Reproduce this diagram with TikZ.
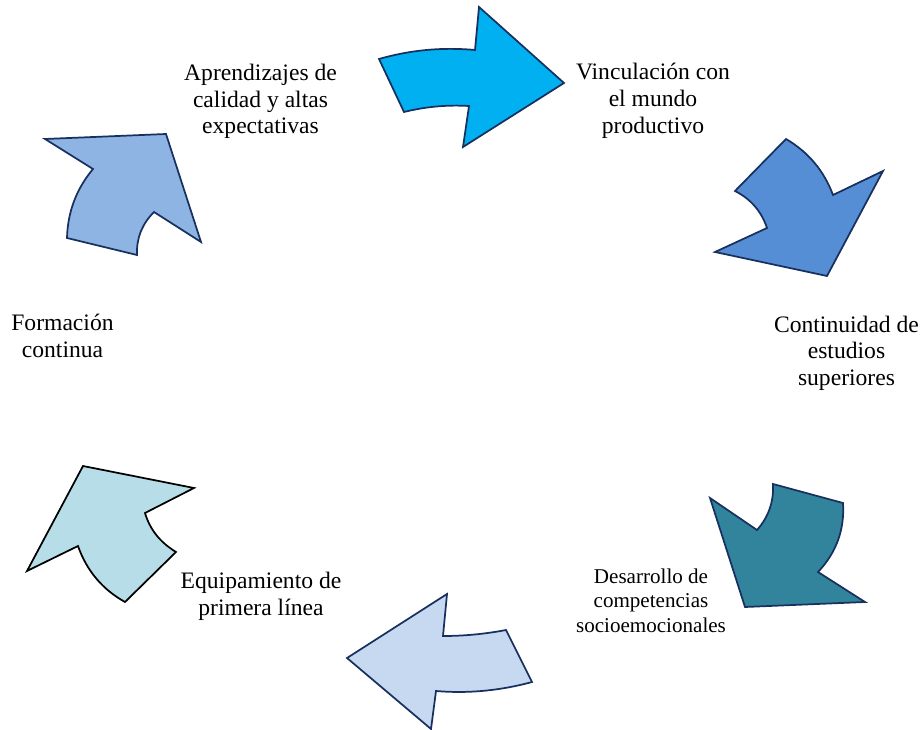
\documentclass[tikz,border=0pt]{standalone}
\usepackage{fontspec}
\setmainfont{Liberation Serif}
\usetikzlibrary{positioning}

\definecolor{navyline}{HTML}{17305E}
\definecolor{cycA}{HTML}{00B0F0}
\definecolor{cycB}{HTML}{558ED5}
\definecolor{cycC}{HTML}{31849B}
\definecolor{cycD}{HTML}{C6D9F1}
\definecolor{cycE}{HTML}{B7DEE8}
\definecolor{cycF}{HTML}{8EB4E3}

\tikzset{
  arrowshape/.style={draw=navyline,line width=1.3pt,line join=miter},
  lbl/.style={align=center,inner sep=0pt,anchor=north,
    font=\fontsize{17.7}{20}\selectfont},
  smalllbl/.style={lbl,font=\fontsize{15.8}{18.4}\selectfont}
}

\begin{document}
\begin{tikzpicture}[x=0.75pt,y=-0.75pt]
\useasboundingbox (0,0) rectangle (923,730);
\draw[arrowshape,fill=cycA] (379,59) .. controls (410.3,50) and (442.3,47) .. (475,50) -- (479,7) -- (564,83) -- (463,147) -- (469,106) .. controls (447,104.7) and (425.3,106.7) .. (404,112) -- cycle;
\draw[arrowshape,fill=cycB] (786,139) .. controls (808.3,152.1) and (824,170.8) .. (833,195) -- (883,171) -- (827,276) -- (715,252) -- (767,228) .. controls (761.4,211.3) and (750.7,199) .. (735,191) -- cycle;
\draw[arrowshape,fill=cycC] (757,530) .. controls (768.6,516.9) and (773.9,501.5) .. (773,484) -- (843,503) .. controls (844.7,529.7) and (836.3,552.7) .. (818,572) -- (865,602) -- (745,607) -- (710,498) -- cycle;
\draw[arrowshape,fill=cycD] (447,594) -- (443,636) .. controls (464,636) and (485,634) .. (506,630) -- (532,682) .. controls (500,690.7) and (468,693.7) .. (436,691) -- (431,729) -- (347,658) -- cycle;
\draw[arrowshape,draw=black,fill=cycE] (83,466) -- (194,488) -- (145,513) .. controls (150.1,530.1) and (160.5,542.5) .. (176,552) -- (125,602) .. controls (102.3,589.3) and (86.7,570.7) .. (78,546) -- (27,571) -- cycle;
\draw[arrowshape,fill=cycF] (45,139) -- (166,134) -- (201,242) -- (154,212) .. controls (142,224) and (136.3,238.3) .. (137,255) -- (67,238) .. controls (67.7,212) and (76.3,189) .. (93,169) -- cycle;

\node[lbl] (aprend) at (260.5,63.7) {Aprendizajes de\\calidad y altas\\expectativas};
\node[lbl] (vincul) at (653,63) {Vinculación con\\el mundo\\productivo};
\node[lbl] (contin) at (846.5,315.5) {Continuidad de\\estudios\\superiores};
\node[smalllbl] (desarr) at (651,568.5) {Desarrollo de\\competencias\\socioemocionales};
\node[lbl] (equipa) at (261,572) {Equipamiento de\\primera línea};
\node[lbl] (formac) at (62.5,314) {Formación\\continua};
\end{tikzpicture}
\end{document}
